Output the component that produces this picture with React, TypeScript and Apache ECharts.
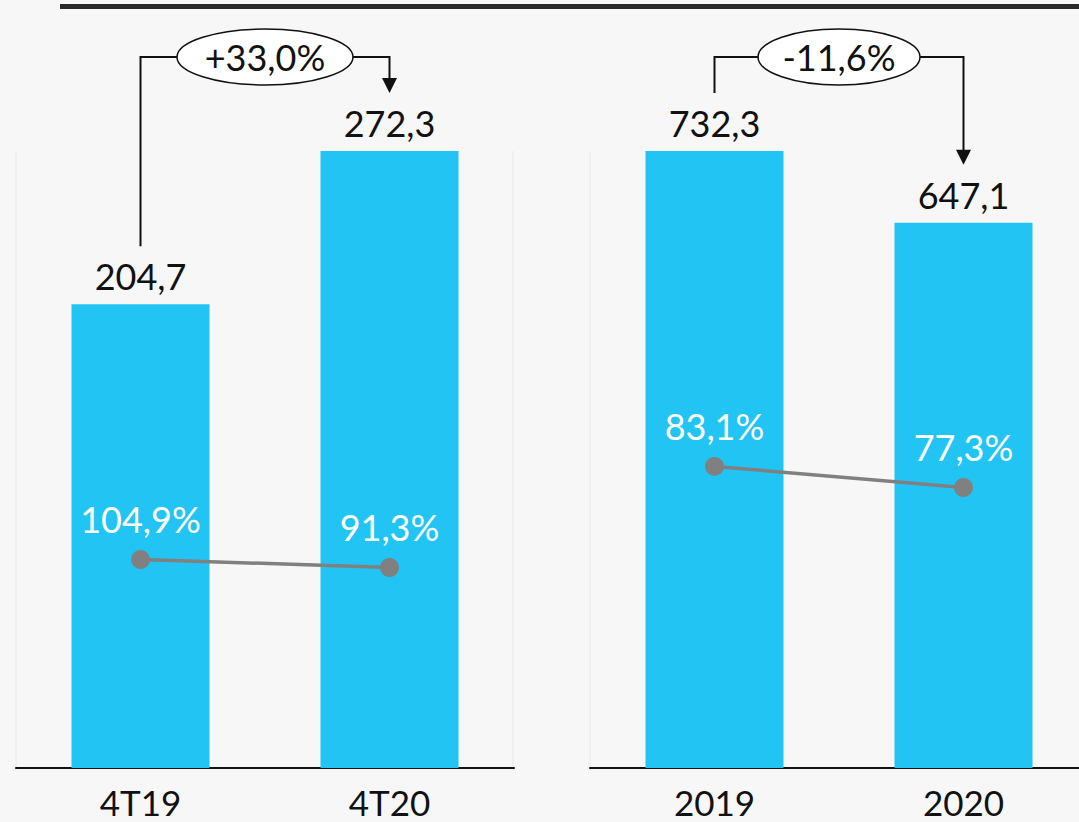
import React, { useEffect, useRef } from 'react';
import * as echarts from 'echarts';

const quarterCategories = ['4T19', '4T20'];
const quarterValues = [204.7, 272.3];
const quarterRatios = [104.9, 91.3];

const yearCategories = ['2019', '2020'];
const yearValues = [732.3, 647.1];
const yearRatios = [83.1, 77.3];

const FONT = 'Lato, "Open Sans", sans-serif';
const BAR_COLOR = '#22c4f3';
const LINE_COLOR = '#808080';
const W = 1079;
const H = 822;

const fmt1 = (v: number) => v.toFixed(1).replace('.', ',');
const fmtPct = (v: number) => fmt1(v) + '%';
const fmtChange = (a: number, b: number) => {
  const c = (b / a - 1) * 100;
  return (c >= 0 ? '+' : '-') + Math.abs(c).toFixed(1).replace('.', ',') + '%';
};

export default function App() {
  const ref = useRef<HTMLDivElement>(null);

  useEffect(() => {
    if (!ref.current) return;
    const chart = echarts.init(ref.current, undefined, { renderer: 'svg' });

    const gridTop = 151;
    const gridBottom = 54;
    const grids = [
      { left: 16, width: 498, top: gridTop, bottom: gridBottom, outerBoundsMode: 'none', containLabel: false },
      { left: 590, width: 498, top: gridTop, bottom: gridBottom, outerBoundsMode: 'none', containLabel: false },
    ];

    const xAxisCommon = {
      type: 'category' as const,
      boundaryGap: true,
      axisLine: { show: true, lineStyle: { color: '#111', width: 2 } },
      axisTick: { show: false },
      axisLabel: {
        color: '#111',
        fontSize: 35,
        lineHeight: 28,
        fontFamily: FONT,
        margin: 20,
        verticalAlign: 'top',
      },
      splitLine: { show: false },
    };

    const barSeries = (xi: number, yi: number, data: number[]) => ({
      type: 'bar',
      xAxisIndex: xi,
      yAxisIndex: yi,
      data,
      barWidth: 138,
      itemStyle: { color: BAR_COLOR },
      label: {
        show: true,
        position: 'top',
        distance: 10,
        color: '#111',
        fontSize: 36,
        fontFamily: FONT,
        formatter: (p: any) => fmt1(p.value),
      },
      z: 2,
    });

    const lineSeries = (xi: number, yi: number, data: number[]) => ({
      type: 'line',
      xAxisIndex: xi,
      yAxisIndex: yi,
      data,
      symbol: 'circle',
      symbolSize: 19,
      itemStyle: { color: LINE_COLOR },
      lineStyle: { color: LINE_COLOR, width: 3.5 },
      label: {
        show: true,
        position: 'top',
        distance: 13,
        color: '#ffffff',
        fontSize: 36,
        fontFamily: FONT,
        formatter: (p: any) => fmtPct(p.value),
      },
      z: 3,
    });

    chart.setOption({
      animation: false,
      backgroundColor: '#f7f7f7',
      grid: grids,
      xAxis: [
        { ...xAxisCommon, gridIndex: 0, data: quarterCategories },
        { ...xAxisCommon, gridIndex: 1, data: yearCategories },
      ],
      yAxis: [
        { type: 'value', gridIndex: 0, min: 0, max: 'dataMax', show: false },
        { type: 'value', gridIndex: 1, min: 0, max: 'dataMax', show: false },
        { type: 'value', gridIndex: 0, min: -250, max: 800, show: false },
        { type: 'value', gridIndex: 1, min: 0, max: 170, show: false },
      ],
      series: [
        barSeries(0, 0, quarterValues),
        barSeries(1, 1, yearValues),
        lineSeries(0, 2, quarterRatios),
        lineSeries(1, 3, yearRatios),
      ],
    });

    const px = (xi: number, yi: number, idx: number, v: number) =>
      chart.convertToPixel({ xAxisIndex: xi, yAxisIndex: yi } as any, [idx, v]) as number[];

    const bracketY = 57;
    const gap = 58;
    const graphics: any[] = [];

    // top dark rule
    graphics.push({
      type: 'rect',
      shape: { x: 60, y: 4, width: W - 60, height: 5 },
      style: { fill: '#2a2a2a' },
      z: 10,
    });

    // light plot borders
    const borderX = [16, 513, 590];
    borderX.forEach((x) => {
      graphics.push({
        type: 'line',
        shape: { x1: x, y1: gridTop, x2: x, y2: H - gridBottom },
        style: { stroke: '#e8e8e8', lineWidth: 1 },
        z: 0,
      });
    });

    const addBracket = (xi: number, values: number[], rx: number) => {
      const a = px(xi, xi, 0, values[0]);
      const b = px(xi, xi, 1, values[1]);
      const startY = a[1] - gap;
      const tipY = b[1] - gap;
      const cx = (a[0] + b[0]) / 2;
      const line = { stroke: '#111', lineWidth: 2 };
      graphics.push({
        type: 'polyline',
        shape: { points: [[a[0], startY], [a[0], bracketY], [cx, bracketY]] },
        style: { ...line, fill: null },
        z: 20,
      });
      graphics.push({
        type: 'polyline',
        shape: { points: [[cx, bracketY], [b[0], bracketY], [b[0], tipY - 12]] },
        style: { ...line, fill: null },
        z: 20,
      });
      graphics.push({
        type: 'polygon',
        shape: { points: [[b[0], tipY], [b[0] - 7.5, tipY - 15], [b[0] + 7.5, tipY - 15]] },
        style: { fill: '#111' },
        z: 20,
      });
      graphics.push({
        type: 'ellipse',
        shape: { cx, cy: bracketY, rx, ry: 28 },
        style: { fill: '#ffffff', stroke: '#111', lineWidth: 1.5 },
        z: 21,
      });
      graphics.push({
        type: 'text',
        x: cx,
        y: bracketY,
        style: {
          text: fmtChange(values[0], values[1]),
          fill: '#111',
          fontSize: 36,
          fontFamily: FONT,
          align: 'center',
          verticalAlign: 'middle',
        },
        z: 22,
      });
    };

    addBracket(0, quarterValues, 88);
    addBracket(1, yearValues, 81);

    chart.setOption({ graphic: graphics });

    return () => chart.dispose();
  }, []);

  return (
    <div
      ref={ref}
      style={{ position: 'absolute', left: 0, top: 0, width: W, height: H }}
    />
  );
}
